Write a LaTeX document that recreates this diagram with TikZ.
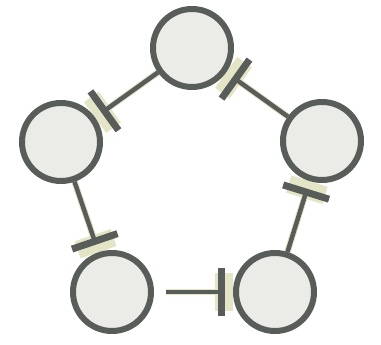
\documentclass[tikz,border=0pt]{standalone}
\usetikzlibrary{arrows.meta,backgrounds}
\definecolor{ring}{HTML}{585D59}
\definecolor{core}{HTML}{EBEBE7}
\definecolor{halo}{HTML}{E4E4C6}
\tikzset{
    gene/.style={circle, draw=ring, fill=core, line width=6pt, minimum size=78pt, inner sep=0pt},
    inhib/.style={draw=ring, line width=4.5pt, shorten >=8pt,
        -{Bar[width=48pt,line width=7pt]},
        preaction={draw=halo, line width=6.5pt, shorten >=0pt, -{Bar[width=38pt,line width=18pt]}}}
}
\begin{document}
\begin{tikzpicture}[x=1pt,y=1pt]
\useasboundingbox (0,0) rectangle (381,345);
\node[gene] (top) at (192,297) {};
\node[gene] (left) at (61,203) {};
\node[gene] (right) at (322,204) {};
\node[gene] (botl) at (112,53) {};
\node[gene] (botr) at (275,53) {};
\begin{scope}[on background layer]
\draw[inhib] (top) -- (left);
\draw[inhib] (left) -- (botl);
\draw[inhib, shorten <=12pt] (botl) -- (botr);
\draw[inhib] (botr) -- (right);
\draw[inhib] (right) -- (top);
\end{scope}
\end{tikzpicture}
\end{document}
